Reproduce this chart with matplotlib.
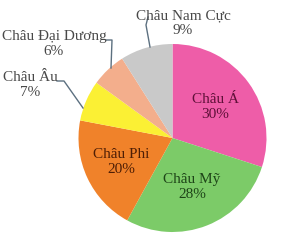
import numpy as np
import matplotlib
matplotlib.use("Agg")
import matplotlib.pyplot as plt

# du lieu
chau = ["Châu Á", "Châu Mỹ", "Châu Phi", "Châu Âu", "Châu Đại Dương", "Châu Nam Cực"]
phan_tram = [30, 28, 20, 7, 6, 9]
mau = ["#EE5DA8", "#7CCB68", "#F0822A", "#FBF034", "#F3AE8C", "#C9C9C9"]

plt.rcParams['font.family'] = ['Liberation Serif', 'DejaVu Serif']

fig = plt.figure(figsize=(2.81, 2.44), dpi=100)
ax = fig.add_axes([0, 0, 1, 1])

cx, cy, R = 172.5, 244 - 138, 94
wedges, _ = ax.pie(phan_tram, colors=mau, startangle=90, counterclock=False,
                   center=(cx, cy), radius=R, frame=True)
ax.set_xlim(0, 281)
ax.set_ylim(0, 244)
ax.set_aspect('equal')
ax.axis('off')

# nhan ben trong (3 manh lon)
mau_chu = ["#5E1038", "#1E4418", "#4E1E05"]
kc = [0.56, 0.56, 0.60]
for i in range(3):
    w = wedges[i]
    goc = np.deg2rad((w.theta1 + w.theta2) / 2)
    x = cx + kc[i] * R * np.cos(goc)
    y = cy + kc[i] * R * np.sin(goc)
    ax.text(x, y, "{0}\n{1}%".format(chau[i], phan_tram[i]), ha='center', va='center',
            color=mau_chu[i], fontsize=11, linespacing=1.15)

# nhan ben ngoai, co duong dan
xam = "#484848"
duong = "#5C7080"
ax.text(183, 244 - 23, "{0}\n{1}%".format(chau[5], phan_tram[5]), ha='center', va='center',
        color=xam, fontsize=11, linespacing=1.15)
ax.plot([148, 146, 150], [244 - 17, 244 - 25, 244 - 47], color=duong, lw=1)

ax.text(54, 244 - 44, "{0}\n{1}%".format(chau[4], phan_tram[4]), ha='center', va='center',
        color=xam, fontsize=11, linespacing=1.15)
ax.plot([106, 112, 111], [244 - 40, 244 - 40, 244 - 68], color=duong, lw=1)

ax.text(30, 244 - 85, "{0}\n{1}%".format(chau[3], phan_tram[3]), ha='center', va='center',
        color=xam, fontsize=11, linespacing=1.15)
ax.plot([57, 64, 83], [244 - 81, 244 - 81, 244 - 108], color=duong, lw=1)

fig.savefig("out.png", dpi=100)
